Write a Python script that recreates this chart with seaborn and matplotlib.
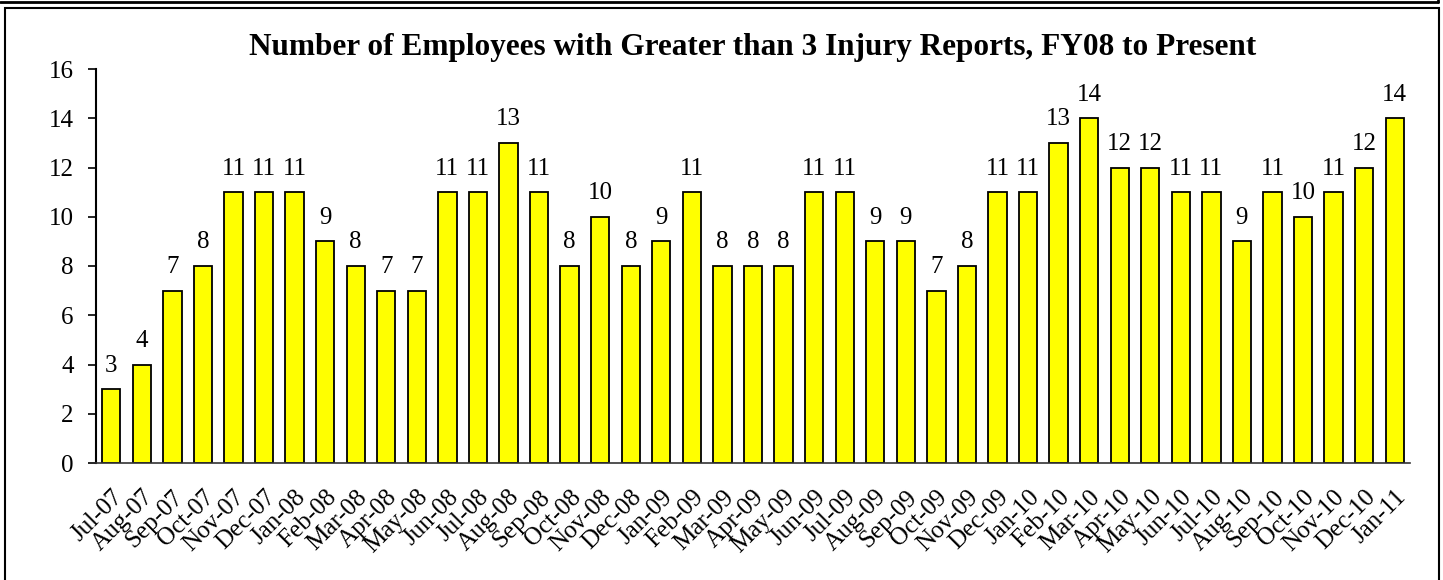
import pandas as pd
import matplotlib.pyplot as plt
import seaborn as sns
from matplotlib.patches import Rectangle
from matplotlib.lines import Line2D

# Monthly counts, Jul-07 to Jan-11
months = ['Jul-07', 'Aug-07', 'Sep-07', 'Oct-07', 'Nov-07', 'Dec-07',
          'Jan-08', 'Feb-08', 'Mar-08', 'Apr-08', 'May-08', 'Jun-08',
          'Jul-08', 'Aug-08', 'Sep-08', 'Oct-08', 'Nov-08', 'Dec-08',
          'Jan-09', 'Feb-09', 'Mar-09', 'Apr-09', 'May-09', 'Jun-09',
          'Jul-09', 'Aug-09', 'Sep-09', 'Oct-09', 'Nov-09', 'Dec-09',
          'Jan-10', 'Feb-10', 'Mar-10', 'Apr-10', 'May-10', 'Jun-10',
          'Jul-10', 'Aug-10', 'Sep-10', 'Oct-10', 'Nov-10', 'Dec-10',
          'Jan-11']
employees = [3, 4, 7, 8, 11, 11,
             11, 9, 8, 7, 7, 11,
             11, 13, 11, 8, 10, 8,
             9, 11, 8, 8, 8, 11,
             11, 9, 9, 7, 8, 11,
             11, 13, 14, 12, 12, 11,
             11, 9, 11, 10, 11, 12,
             14]
yticks = [0, 2, 4, 6, 8, 10, 12, 14, 16]

df = pd.DataFrame({'month': months, 'count': employees})

sns.set_style("white")
plt.rcParams['font.family'] = ['Liberation Serif', 'DejaVu Serif']
plt.rcParams['text.color'] = 'black'
plt.rcParams['xtick.color'] = 'black'
plt.rcParams['ytick.color'] = 'black'

fig = plt.figure(figsize=(14.43, 5.8), dpi=100)
ax = fig.add_axes([96 / 1443, 1 - 463 / 580, (1410 - 96) / 1443, (463 - 69) / 580])

sns.barplot(data=df, x='month', y='count', color='#FFFF00', edgecolor='black',
            linewidth=1.3, width=0.6, saturation=1, ax=ax)

# value labels above bars
ax.bar_label(ax.containers[0], fontsize=18, padding=9, color='black')

ax.set_xlim(-0.5, len(months) - 0.5)
ax.set_ylim(0, 16)
ax.set_yticks(yticks)
ax.set_xlabel('')
ax.set_ylabel('')
ax.set_title('Number of Employees with Greater than 3 Injury Reports, FY08 to Present',
             fontsize=22.5, fontweight='bold', pad=10, color='black')

ax.tick_params(axis='y', left=True, length=6, width=1.2, labelsize=18, pad=10)
ax.tick_params(axis='x', bottom=False, labelsize=18, pad=13)
plt.setp(ax.get_xticklabels(), rotation=45, ha='right', rotation_mode='anchor')

for s in ['top', 'right']:
    ax.spines[s].set_visible(False)
ax.spines['left'].set_linewidth(1.5)
ax.spines['left'].set_color('black')
ax.spines['bottom'].set_linewidth(1.2)
ax.spines['bottom'].set_color('#333333')

# outer frame like the original sheet
fig.add_artist(Rectangle((4.5 / 1443, -0.05), 1434 / 1443, 1.05 - 7.5 / 580,
                         transform=fig.transFigure, fill=False, lw=1.5, color='black'))
fig.add_artist(Line2D([0, 1438 / 1443], [1 - 2 / 580, 1 - 2 / 580],
                      transform=fig.transFigure, lw=2, color='black'))
fig.add_artist(Line2D([1438 / 1443, 1438 / 1443], [1 - 2 / 580, 1.0],
                      transform=fig.transFigure, lw=2, color='black'))

fig.savefig('out.png', dpi=100)
